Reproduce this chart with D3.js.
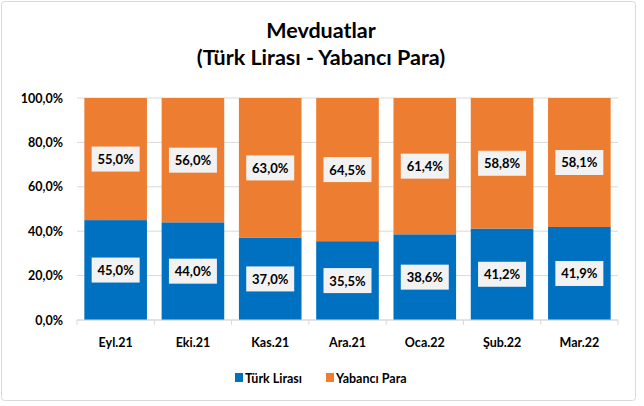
<!DOCTYPE html>
<html>
<head>
<meta charset="utf-8">
<script src="https://cdn.jsdelivr.net/npm/d3@7"></script>
<style>
  body { margin: 0; background: #fff; }
  text { font-family: Lato, "Open Sans", sans-serif; font-weight: bold; fill: #000; }
</style>
</head>
<body>
<div id="chart"></div>
<script>
var months = ["Eyl.21", "Eki.21", "Kas.21", "Ara.21", "Oca.22", "Şub.22", "Mar.22"];
var turkLirasi = [45.0, 44.0, 37.0, 35.5, 38.6, 41.2, 41.9];
var yabanciPara = [55.0, 56.0, 63.0, 64.5, 61.4, 58.8, 58.1];
var yTicks = [0, 20, 40, 60, 80, 100];

var width = 644, height = 406;
var colTL = "#0070C0", colYP = "#ED7D31";

var svg = d3.select("#chart").append("svg")
    .attr("width", width)
    .attr("height", height);

// chart border
svg.append("rect")
    .attr("x", 1.5).attr("y", 1.5)
    .attr("width", 634).attr("height", 399)
    .attr("rx", 3)
    .attr("fill", "#fff")
    .attr("stroke", "#d9d9d9");

// title
svg.append("text").attr("x", 321).attr("y", 38)
    .attr("text-anchor", "middle").style("font-size", "21.5px")
    .text("Mevduatlar");
svg.append("text").attr("x", 321).attr("y", 65)
    .attr("text-anchor", "middle").style("font-size", "21.5px")
    .text("(Türk Lirası - Yabancı Para)");

var x = d3.scaleBand().domain(months).range([77, 618]).paddingInner(0.19).paddingOuter(0.095);
var y = d3.scaleLinear().domain([0, 100]).range([320, 98]);

var fmt = function(v) { return v.toFixed(1).replace(".", ",") + "%"; };

// gridlines
svg.append("g").selectAll("line")
    .data(yTicks)
    .enter().append("line")
    .attr("x1", 77).attr("x2", 618)
    .attr("y1", function(d) { return y(d); })
    .attr("y2", function(d) { return y(d); })
    .attr("stroke", "#d9d9d9");

// y labels
svg.append("g").selectAll("text")
    .data(yTicks)
    .enter().append("text")
    .attr("x", 63)
    .attr("y", function(d) { return y(d) + 4.5; })
    .attr("text-anchor", "end")
    .style("font-size", "12.5px")
    .text(function(d) { return fmt(d); });

var data = months.map(function(m, i) {
    return { month: m, tl: turkLirasi[i], yp: yabanciPara[i] };
});

var bars = svg.append("g").selectAll("g")
    .data(data)
    .enter().append("g");

bars.append("rect")
    .attr("x", function(d) { return x(d.month); })
    .attr("width", x.bandwidth())
    .attr("y", function(d) { return y(d.tl); })
    .attr("height", function(d) { return y(0) - y(d.tl); })
    .attr("fill", colTL);

bars.append("rect")
    .attr("x", function(d) { return x(d.month); })
    .attr("width", x.bandwidth())
    .attr("y", y(100))
    .attr("height", function(d) { return y(d.tl) - y(100); })
    .attr("fill", colYP);

// data labels
function addLabel(sel, getV, getMid) {
    var lbl = sel.append("g")
        .attr("transform", function(d) {
            return "translate(" + (x(d.month) + x.bandwidth() / 2) + "," + getMid(d) + ")";
        });
    lbl.append("rect")
        .attr("x", -24).attr("y", -12.5)
        .attr("width", 48).attr("height", 25)
        .attr("fill", "#f2f2f2");
    lbl.append("text")
        .attr("text-anchor", "middle")
        .attr("y", 5)
        .style("font-size", "13px")
        .text(function(d) { return fmt(getV(d)); });
}
addLabel(bars, function(d) { return d.tl; }, function(d) { return y(d.tl / 2); });
addLabel(bars, function(d) { return d.yp; }, function(d) { return y(d.tl + d.yp / 2); });

// x axis
svg.append("line")
    .attr("x1", 77).attr("x2", 618)
    .attr("y1", y(0)).attr("y2", y(0))
    .attr("stroke", "#d9d9d9");
svg.append("g").selectAll("line")
    .data(d3.range(months.length + 1))
    .enter().append("line")
    .attr("x1", function(i) { return 77 + i * (541 / months.length); })
    .attr("x2", function(i) { return 77 + i * (541 / months.length); })
    .attr("y1", y(0)).attr("y2", y(0) + 5)
    .attr("stroke", "#d9d9d9");

svg.append("g").selectAll("text")
    .data(months)
    .enter().append("text")
    .attr("x", function(d) { return x(d) + x.bandwidth() / 2; })
    .attr("y", 347)
    .attr("text-anchor", "middle")
    .style("font-size", "12.5px")
    .text(function(d) { return d; });

// legend
var legend = [{ name: "Türk Lirası", c: colTL, x: 235 }, { name: "Yabancı Para", c: colYP, x: 326 }];
var lg = svg.append("g").selectAll("g")
    .data(legend)
    .enter().append("g")
    .attr("transform", function(d) { return "translate(" + d.x + ",378)"; });
lg.append("rect").attr("x", 0).attr("y", -5).attr("width", 8).attr("height", 9)
    .attr("fill", function(d) { return d.c; });
lg.append("text").attr("x", 10).attr("y", 4.5)
    .style("font-size", "12.5px")
    .text(function(d) { return d.name; });
</script>
</body>
</html>
